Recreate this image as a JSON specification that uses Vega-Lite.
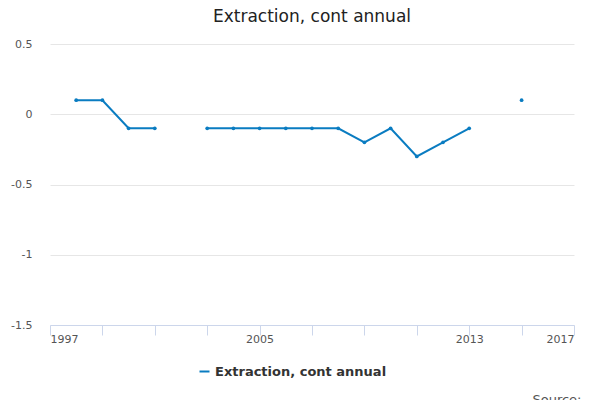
{
  "$schema": "https://vega.github.io/schema/vega-lite/v6.json",
  "width": 524,
  "height": 281,
  "autosize": {"type": "pad"},
  "padding": {"top": 8, "left": 10, "right": 5, "bottom": 5},
  "title": {"text": "Extraction, cont annual", "fontSize": 17, "font": "DejaVu Sans", "fontWeight": "normal", "color": "#222222", "offset": 12},
  "config": {"view": {"stroke": null}, "font": "DejaVu Sans"},
  "data": {
    "values": [
      {"year": 1998, "value": 0.1, "series": "Extraction, cont annual"},
      {"year": 1999, "value": 0.1, "series": "Extraction, cont annual"},
      {"year": 2000, "value": -0.1, "series": "Extraction, cont annual"},
      {"year": 2001, "value": -0.1, "series": "Extraction, cont annual"},
      {"year": 2002, "value": null, "series": "Extraction, cont annual"},
      {"year": 2003, "value": -0.1, "series": "Extraction, cont annual"},
      {"year": 2004, "value": -0.1, "series": "Extraction, cont annual"},
      {"year": 2005, "value": -0.1, "series": "Extraction, cont annual"},
      {"year": 2006, "value": -0.1, "series": "Extraction, cont annual"},
      {"year": 2007, "value": -0.1, "series": "Extraction, cont annual"},
      {"year": 2008, "value": -0.1, "series": "Extraction, cont annual"},
      {"year": 2009, "value": -0.2, "series": "Extraction, cont annual"},
      {"year": 2010, "value": -0.1, "series": "Extraction, cont annual"},
      {"year": 2011, "value": -0.3, "series": "Extraction, cont annual"},
      {"year": 2012, "value": -0.2, "series": "Extraction, cont annual"},
      {"year": 2013, "value": -0.1, "series": "Extraction, cont annual"},
      {"year": 2014, "value": null, "series": "Extraction, cont annual"},
      {"year": 2015, "value": 0.1, "series": "Extraction, cont annual"}
    ]
  },
  "mark": {"type": "line", "strokeWidth": 2, "point": {"size": 14, "filled": true}},
  "encoding": {
    "x": {
      "field": "year",
      "type": "quantitative",
      "scale": {"domain": [1997, 2017], "nice": false},
      "axis": {
        "title": "Source:",
        "titleFontWeight": "normal",
        "titleFontSize": 13,
        "titleColor": "#555555",
        "titleY": 68,
        "titleX": 531,
        "titleAlign": "right",
        "values": [1997, 1999, 2001, 2003, 2005, 2007, 2009, 2011, 2013, 2015, 2017],
        "labelExpr": "indexof([1997, 2005, 2013, 2017], datum.value) >= 0 ? datum.value : ''",
        "grid": false,
        "domainColor": "#ccd6eb",
        "tickColor": "#ccd6eb",
        "tickSize": 10,
        "labelColor": "#555555",
        "labelFontSize": 11,
        "labelPadding": -2
      }
    },
    "y": {
      "field": "value",
      "type": "quantitative",
      "scale": {"domain": [-1.5, 0.5], "nice": false},
      "axis": {
        "title": null,
        "values": [0.5, 0, -0.5, -1, -1.5],
        "labelExpr": "replace(toString(datum.value), '−', '-')",
        "grid": true,
        "gridColor": "#e6e6e6",
        "domain": false,
        "ticks": false,
        "labelColor": "#555555",
        "labelFontSize": 11,
        "labelPadding": 18
      }
    },
    "color": {
      "field": "series",
      "type": "nominal",
      "scale": {"range": ["#0a7cc1"]},
      "legend": {"orient": "none", "legendX": 148, "legendY": 321, "title": null, "labelLimit": 0, "labelFontSize": 13, "labelFontWeight": "bold", "labelColor": "#333333", "symbolType": "stroke", "symbolStrokeWidth": 2}
    }
  }
}
